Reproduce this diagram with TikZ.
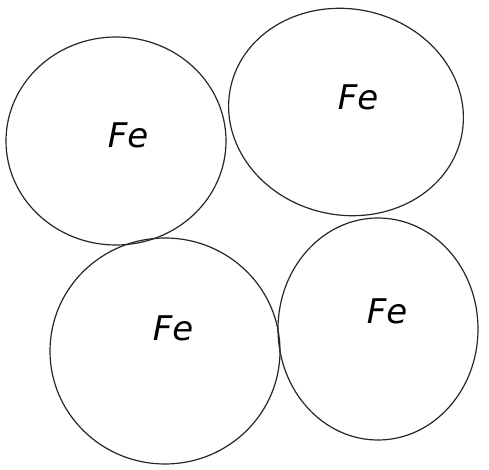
\documentclass[tikz,border=0pt]{standalone}
\usepackage{fontspec}
\setmainfont{DejaVu Sans}
\begin{document}
\begin{tikzpicture}[x=1pt, y=-1pt, every node/.style={font=\fontsize{34}{34}\selectfont\itshape}]
  \useasboundingbox (0,0) rectangle (489,470);
  \tikzset{atom/.style={draw=black!85, line width=1.2pt}}
  % top row
  \draw[atom] (116,141) ellipse [x radius=110, y radius=104];
  \draw[atom, rotate around={-12:(346,112)}] (346,112) ellipse [x radius=118, y radius=103];
  \node (fe1) at (128,135) {Fe};
  \node (fe2) at (358,97) {Fe};
  % bottom row
  \draw[atom] (165,351) ellipse [x radius=115, y radius=113];
  \draw[atom] (378,329) ellipse [x radius=100, y radius=111];
  \node (fe3) at (173,328) {Fe};
  \node (fe4) at (387,311) {Fe};
\end{tikzpicture}
\end{document}
